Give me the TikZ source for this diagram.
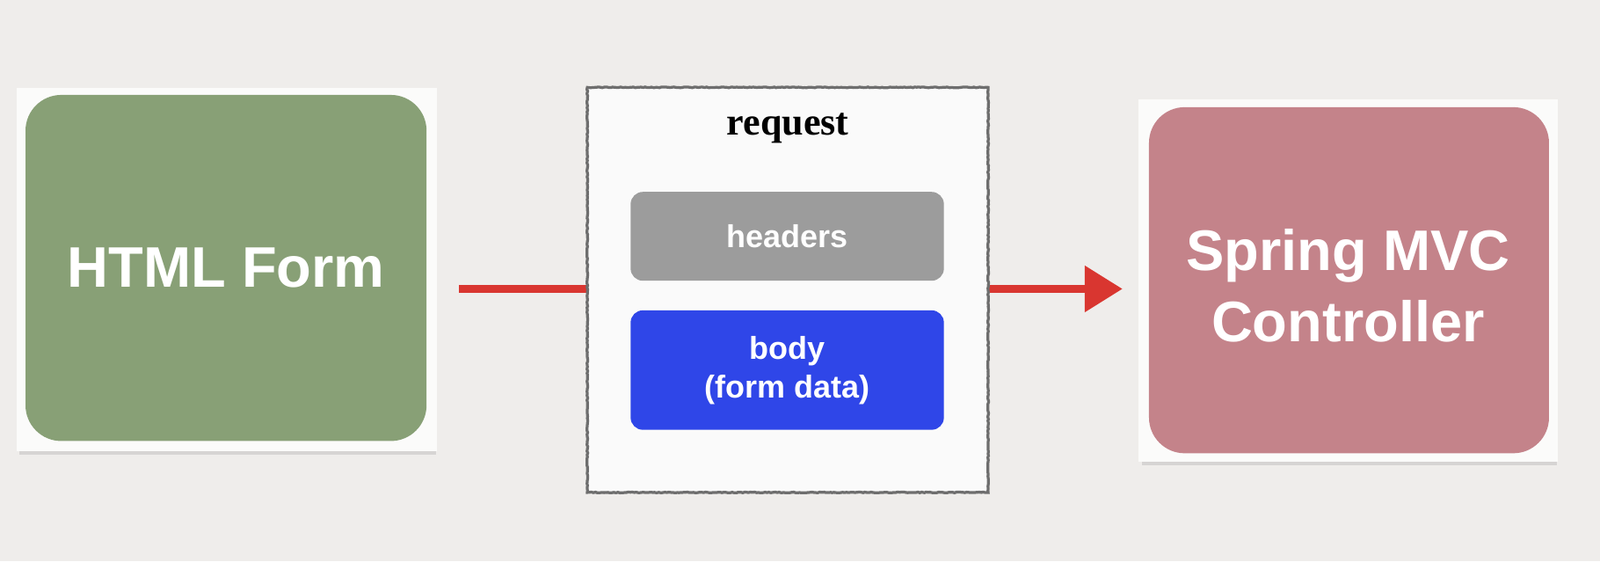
\documentclass[tikz,border=0pt]{standalone}
\usepackage{fontspec}
\setmainfont{Liberation Serif}
\newfontfamily\sansfam{Liberation Sans}
\usetikzlibrary{arrows.meta,decorations.pathmorphing}
\definecolor{bgc}{HTML}{EFEDEB}
\definecolor{framec}{HTML}{FBFBFA}
\definecolor{greenc}{HTML}{88A076}
\definecolor{pinkc}{HTML}{C4838A}
\definecolor{grayc}{HTML}{9C9C9C}
\definecolor{bluec}{HTML}{2F46E8}
\definecolor{redc}{HTML}{D93630}
\definecolor{reqfill}{HTML}{FAFAFA}
\definecolor{reqline}{HTML}{6E6E6E}
\tikzset{
  frame/.style={rectangle, fill=framec, inner sep=0pt},
  card/.style={rectangle, rounded corners=17.5pt, inner sep=0pt, text=white,
    font=\sansfam\bfseries\fontsize{28}{35}\selectfont, align=center},
  part/.style={rectangle, rounded corners=6pt, inner sep=0pt, text=white,
    minimum width=153.5pt, font=\sansfam\bfseries\fontsize{15.5}{19}\selectfont, align=center},
  flow/.style={draw=redc, line width=3.5pt, -{Triangle[length=18.5pt,width=22pt]}},
  shadowbox/.style={fill=black, opacity=0.10, inner sep=0pt, rectangle},
}
\begin{document}
\begin{tikzpicture}[x=0.5pt,y=-0.5pt]
\fill[bgc] (0,0) rectangle (1568,550);
\useasboundingbox (0,0) rectangle (1568,550);
% shadows
\node[shadowbox, minimum width=204pt, minimum height=176pt] (hshadow) at (223,269) {};
\node[shadowbox, minimum width=203pt, minimum height=176pt] (sshadow) at (1322.5,280) {};
% HTML Form
\node[frame, minimum width=206pt, minimum height=178pt] (hframe) at (222,264) {};
\node[card, fill=greenc, minimum width=196.5pt, minimum height=169.5pt] (html) at (221.5,262.5) {HTML Form};
% Spring MVC Controller
\node[frame, minimum width=205.5pt, minimum height=177.5pt] (sframe) at (1321.5,274.5) {};
\node[card, fill=pinkc, minimum width=196pt, minimum height=169.5pt, text depth=0pt] (spring) at (1322,274.5) {};
\node[font=\sansfam\bfseries\fontsize{28}{35}\selectfont, text=white, align=center] (springlabel) at (1321,280) {Spring MVC\\Controller};
% arrow
\coordinate (astart) at (450,283);
\coordinate (aend) at (1100,283);
\draw[flow] (astart) -- (aend);
% request
\node[rectangle, fill=reqfill, inner sep=0pt, minimum width=196pt, minimum height=198pt] (req) at (772,284) {};
\draw[reqline, line width=1.4pt, decorate, decoration={random steps, segment length=1pt, amplitude=0.2pt}]
  (req.north west) rectangle (req.south east);
\node[font=\bfseries\fontsize{19}{22}\selectfont] (reqlabel) at (772,126) {request};
\node[part, fill=grayc, minimum height=43.5pt] (headers) at (771.5,231.5) {headers};
\node[part, fill=bluec, minimum height=58.5pt] (body) at (771.5,362.5) {body\\(form data)};
\end{tikzpicture}
\end{document}
